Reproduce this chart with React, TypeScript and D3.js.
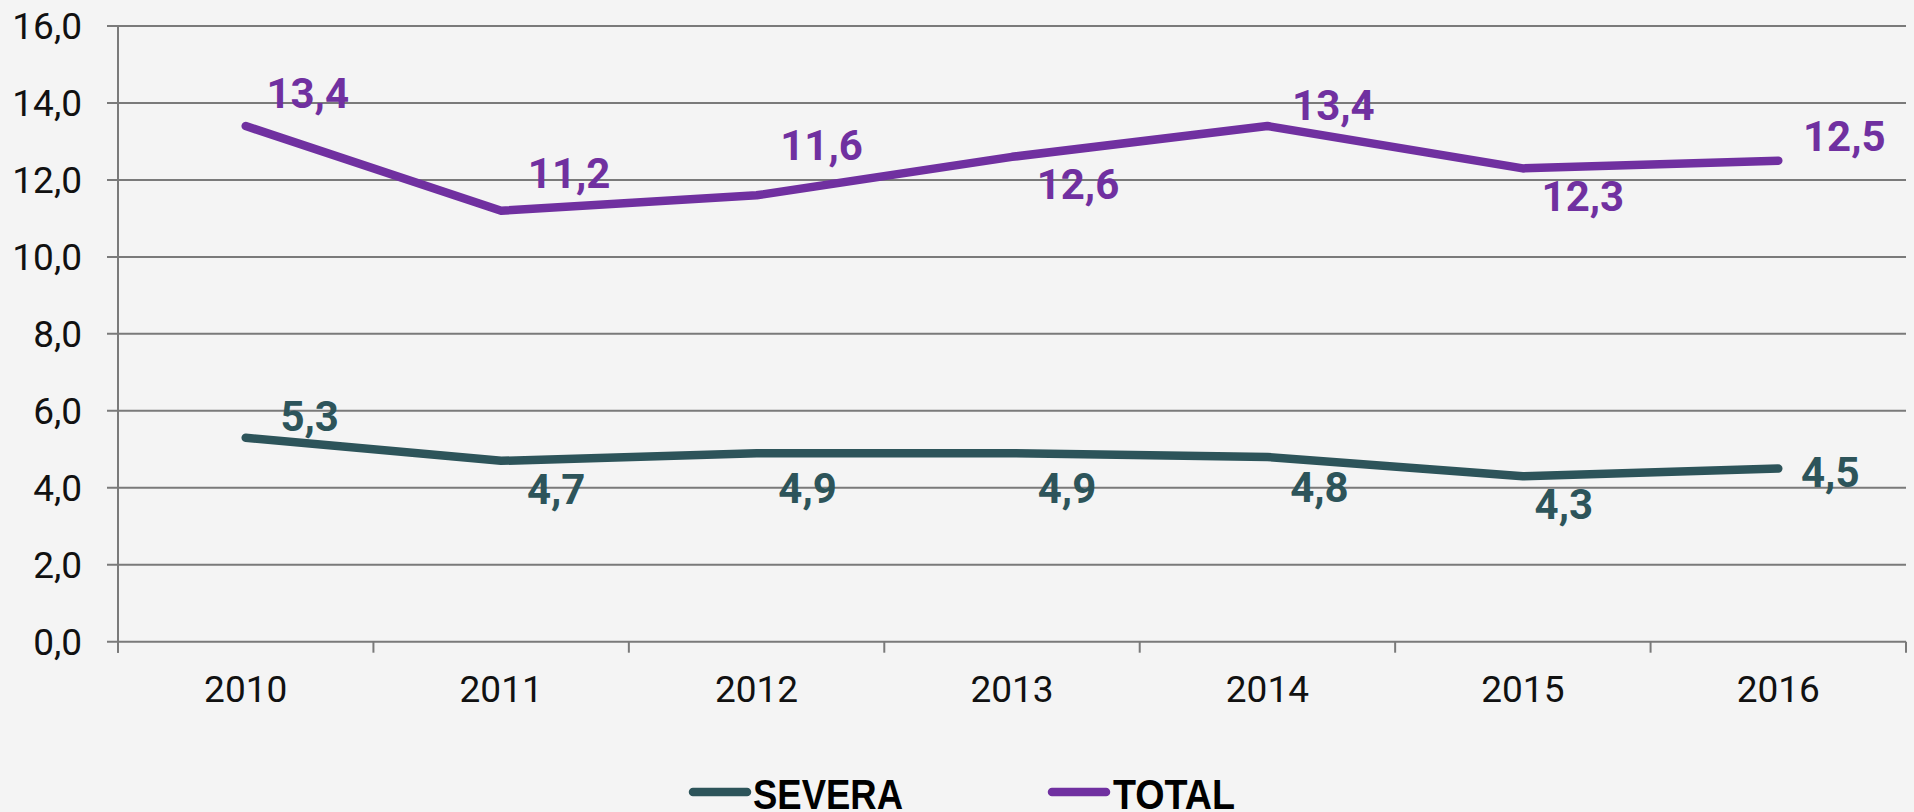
import React from "react";
import * as d3 from "d3";

const years = ["2010", "2011", "2012", "2013", "2014", "2015", "2016"];
const severa = [5.3, 4.7, 4.9, 4.9, 4.8, 4.3, 4.5];
const total = [13.4, 11.2, 11.6, 12.6, 13.4, 12.3, 12.5];
const yTicks = [0, 2, 4, 6, 8, 10, 12, 14, 16];
const seriesNames = ["SEVERA", "TOTAL"];

// label placement (layout only): [dx to label centre, dy to baseline]
const totalLabelOffsets: [number, number][] = [
  [62, -18], [68, -23], [65, -35], [66, 42], [66, -6], [60, 43], [66, -10],
];
const severaLabelOffsets: [number, number][] = [
  [64, -7], [55, 43], [51, 50], [55, 50], [52, 45], [41, 43], [52, 18],
];

const W = 1914;
const H = 812;
const left = 118;
const right = 1906;
const top = 26;
const bottom = 641.7;

const COL_TOTAL = "#7030A0";
const COL_SEVERA = "#2D545A";
const GRID = "#7a7a7a";
const FONT = "Roboto, 'Open Sans', sans-serif";

const fmt = (v: number) => v.toFixed(1).replace(".", ",");

export default function App() {
  const x = d3.scaleBand<string>().domain(years).range([left, right]).padding(0);
  const y = d3.scaleLinear().domain([0, 16]).range([bottom, top]);
  const cx = (d: string) => (x(d) as number) + x.bandwidth() / 2;
  const line = d3
    .line<number>()
    .x((_, i) => cx(years[i]))
    .y((v) => y(v));

  const boundaries = years.map((d) => x(d) as number).concat([right]);

  const series = [
    { name: seriesNames[0], values: severa, color: COL_SEVERA, offs: severaLabelOffsets },
    { name: seriesNames[1], values: total, color: COL_TOTAL, offs: totalLabelOffsets },
  ];

  return (
    <svg
      width={W}
      height={H}
      style={{ position: "absolute", left: 0, top: 0, display: "block" }}
    >
      <rect x={0} y={0} width={W} height={H} fill="#f4f4f4" />
      {yTicks.map((t) => (
        <g key={t}>
          <line x1={left - 11} x2={right} y1={y(t)} y2={y(t)} stroke={GRID} strokeWidth={2} />
          <text
            x={82}
            y={y(t)}
            dy="0.36em"
            textAnchor="end"
            fontFamily={FONT}
            fontSize={37}
            fill="#111"
          >
            {fmt(t)}
          </text>
        </g>
      ))}
      <line x1={left} x2={left} y1={top} y2={bottom + 11} stroke={GRID} strokeWidth={2} />
      {boundaries.map((b, i) => (
        <line key={i} x1={b} x2={b} y1={bottom} y2={bottom + 11} stroke={GRID} strokeWidth={2} />
      ))}
      {years.map((d) => (
        <text
          key={d}
          x={cx(d)}
          y={702}
          textAnchor="middle"
          fontFamily={FONT}
          fontSize={37}
          fill="#111"
        >
          {d}
        </text>
      ))}
      {series.map((s) => (
        <path
          key={s.name}
          d={line(s.values) as string}
          fill="none"
          stroke={s.color}
          strokeWidth={8.5}
          strokeLinecap="round"
          strokeLinejoin="round"
        />
      ))}
      {series.map((s) =>
        s.values.map((v, i) => (
          <text
            key={s.name + i}
            x={cx(years[i]) + s.offs[i][0]}
            y={y(v) + s.offs[i][1]}
            textAnchor="middle"
            fontFamily={FONT}
            fontWeight="bold"
            fontSize={42}
            fill={s.color}
          >
            {fmt(v)}
          </text>
        ))
      )}
      {/* legend */}
      <line x1={693} x2={747} y1={792} y2={792} stroke={COL_SEVERA} strokeWidth={8.5} strokeLinecap="round" />
      <text
        x={753}
        y={809}
        fontFamily="'Liberation Sans Narrow', 'Liberation Sans', sans-serif"
        fontWeight="bold"
        fontSize={42}
        textLength={150}
        lengthAdjust="spacingAndGlyphs"
        fill="#000"
      >
        {seriesNames[0]}
      </text>
      <line x1={1052} x2={1106} y1={792} y2={792} stroke={COL_TOTAL} strokeWidth={8.5} strokeLinecap="round" />
      <text
        x={1113}
        y={809}
        fontFamily="'Liberation Sans Narrow', 'Liberation Sans', sans-serif"
        fontWeight="bold"
        fontSize={42}
        textLength={122}
        lengthAdjust="spacingAndGlyphs"
        fill="#000"
      >
        {seriesNames[1]}
      </text>
    </svg>
  );
}
